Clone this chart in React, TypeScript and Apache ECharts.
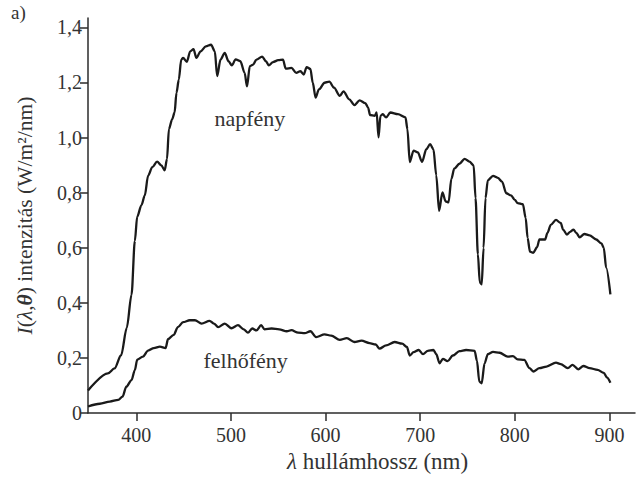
import React, { useEffect, useRef } from "react";
import * as echarts from "echarts";

const napLambda = [349, 370, 377, 384, 390, 395, 398.5, 401, 405.5, 409, 412.5, 417, 422, 426.5, 430, 432.5, 434.5, 438, 440.5, 442.5, 445, 447.5, 449.5, 453.5, 457, 460.5, 463.5, 468, 473.5, 479, 483, 485.5, 489, 493.5, 497.5, 501, 505, 510, 514.5, 517, 520, 523.5, 527, 533, 537, 540, 544.5, 550, 555, 558, 564, 569, 573.5, 577, 580, 584, 586.5, 589.5, 593, 599, 604, 609, 615, 619, 625, 630.5, 636, 642, 645, 647, 652, 654, 656, 658, 660.5, 664, 668.5, 676.5, 684.5, 686.5, 689, 693, 697.5, 702, 706.5, 710.5, 714, 717, 720, 723.5, 727, 730, 733, 736, 741.5, 747, 752, 756.5, 758.5, 761, 763, 765, 767, 769, 771.5, 777, 782, 786.5, 791, 796, 800, 803, 808.5, 811.5, 813.5, 816, 819.5, 823.5, 826, 832, 834.5, 838, 843.5, 848.5, 851, 855, 858.5, 862, 865, 868.5, 873.5, 879, 886, 891.5, 894, 896.5, 901];
const napValue = [0.082, 0.144, 0.162, 0.21, 0.31, 0.43, 0.625, 0.713, 0.755, 0.79, 0.862, 0.893, 0.913, 0.899, 0.881, 0.923, 1.031, 1.067, 1.091, 1.163, 1.211, 1.283, 1.289, 1.275, 1.313, 1.321, 1.289, 1.313, 1.331, 1.337, 1.313, 1.223, 1.283, 1.307, 1.277, 1.262, 1.284, 1.277, 1.235, 1.186, 1.259, 1.265, 1.283, 1.294, 1.277, 1.262, 1.274, 1.281, 1.283, 1.25, 1.253, 1.235, 1.241, 1.229, 1.256, 1.249, 1.199, 1.145, 1.175, 1.199, 1.203, 1.181, 1.151, 1.168, 1.139, 1.118, 1.135, 1.125, 1.109, 1.082, 1.079, 1.091, 1.001, 1.079, 1.085, 1.073, 1.091, 1.085, 1.073, 1.031, 0.911, 0.953, 0.946, 0.912, 0.958, 0.976, 0.958, 0.863, 0.734, 0.801, 0.768, 0.765, 0.851, 0.887, 0.905, 0.923, 0.913, 0.899, 0.78, 0.576, 0.474, 0.467, 0.6, 0.78, 0.845, 0.861, 0.854, 0.84, 0.798, 0.79, 0.774, 0.762, 0.758, 0.708, 0.636, 0.586, 0.582, 0.602, 0.63, 0.63, 0.654, 0.683, 0.701, 0.69, 0.666, 0.648, 0.658, 0.666, 0.654, 0.638, 0.65, 0.645, 0.63, 0.616, 0.6, 0.528, 0.431];

const felLambda = [349, 361.5, 372, 381, 385.5, 389.5, 395, 398.5, 401, 407, 412.5, 418.5, 425, 431, 433.5, 439.5, 444, 449.5, 456.5, 462, 469, 477.5, 482, 486.5, 493.5, 500.5, 507.5, 513.5, 518, 522.5, 527, 532, 535.5, 543, 551, 559, 564, 571, 578, 584, 590, 599, 606, 615, 622.5, 630.5, 638, 646.5, 653, 657, 664, 673, 681, 686, 689, 693, 698.5, 703, 708, 714, 717, 720.5, 724, 729, 734.5, 741.5, 748.5, 757.5, 760, 762.5, 765, 768, 771.5, 777, 784, 792.5, 798, 803, 810, 815.5, 819.5, 826, 833.5, 843.5, 848.5, 856, 861, 867, 872.5, 879, 887.5, 894, 897.5, 901];
const felValue = [0.024, 0.034, 0.042, 0.048, 0.06, 0.096, 0.12, 0.156, 0.194, 0.205, 0.227, 0.236, 0.241, 0.236, 0.268, 0.284, 0.312, 0.33, 0.337, 0.337, 0.325, 0.335, 0.325, 0.312, 0.325, 0.308, 0.319, 0.304, 0.292, 0.307, 0.3, 0.319, 0.304, 0.307, 0.304, 0.297, 0.301, 0.292, 0.29, 0.297, 0.276, 0.286, 0.281, 0.266, 0.272, 0.258, 0.263, 0.254, 0.249, 0.234, 0.246, 0.258, 0.252, 0.24, 0.209, 0.221, 0.229, 0.214, 0.226, 0.229, 0.214, 0.181, 0.197, 0.189, 0.209, 0.225, 0.229, 0.226, 0.19, 0.114, 0.108, 0.18, 0.214, 0.222, 0.219, 0.205, 0.207, 0.195, 0.193, 0.163, 0.151, 0.163, 0.169, 0.183, 0.178, 0.163, 0.175, 0.159, 0.171, 0.163, 0.157, 0.146, 0.129, 0.11];

const xTicks = [400, 500, 600, 700, 800, 900];
const yTicks = [0, 0.2, 0.4, 0.6, 0.8, 1.0, 1.2, 1.4];

const seriesNames = ["napfény", "felhőfény"];
const labelAnchors = [
  [520, 1.069],
  [515.6, 0.19],
];

const FONT = "'Liberation Serif', 'DejaVu Serif', serif";
const INK = "#2b2b2b";
const TXT = "#333333";

export default function App() {
  const ref = useRef<HTMLDivElement>(null);
  useEffect(() => {
    if (!ref.current) return;
    const chart = echarts.init(ref.current, null, { renderer: "svg" });
    const napData = napLambda.map((l, i) => [l, napValue[i]]);
    const felData = felLambda.map((l, i) => [l, felValue[i]]);
    const fmtY = (v: number) => (v === 0 ? "0" : v.toFixed(1).replace(".", ","));
    const mkLabel = (idx: number) => ({
      symbol: "circle",
      symbolSize: 1,
      itemStyle: { color: "rgba(0,0,0,0)" },
      label: {
        show: true,
        position: "inside",
        formatter: seriesNames[idx],
        fontFamily: FONT,
        fontSize: 22,
        color: TXT,
      },
      data: [{ coord: labelAnchors[idx] }],
      animation: false,
    });
    chart.setOption({
      animation: false,
      backgroundColor: "#ffffff",
      textStyle: { fontFamily: FONT },
      grid: { left: 88, right: 9, top: 18, bottom: 61, containLabel: false },
      graphic: [
        {
          type: "text",
          left: 11,
          top: 3,
          style: { text: "a)", fontFamily: FONT, fontSize: 19, fill: TXT },
        },
      ],
      xAxis: {
        type: "value",
        min: 349,
        max: 927,
        name: "{i|λ} hullámhossz (nm)",
        nameLocation: "middle",
        nameGap: 29,
        nameTextStyle: {
          fontFamily: FONT,
          fontSize: 23,
          color: TXT,
          padding: [0, 0, 0, 32],
          rich: {
            i: { fontFamily: FONT, fontSize: 23, fontStyle: "italic", color: TXT },
          },
        },
        axisLine: { show: true, lineStyle: { color: INK, width: 1.5 } },
        axisTick: {
          show: true,
          length: 8,
          inside: false,
          customValues: xTicks,
          lineStyle: { color: INK, width: 1.5 },
        },
        axisLabel: {
          customValues: xTicks,
          fontFamily: FONT,
          fontSize: 20,
          color: TXT,
          margin: 12,
          showMinLabel: true,
          showMaxLabel: true,
        },
        splitLine: { show: false },
      },
      yAxis: {
        type: "value",
        min: 0,
        max: 1.434,
        name: "{i|I}({i|λ},{bi|θ}) intenzitás (W/m²/nm)",
        nameLocation: "middle",
        nameGap: 52,
        nameRotate: 90,
        nameTextStyle: {
          fontFamily: FONT,
          fontSize: 21.5,
          color: TXT,
          rich: {
            i: { fontFamily: FONT, fontSize: 21.5, fontStyle: "italic", color: TXT },
            bi: { fontFamily: FONT, fontSize: 21.5, fontStyle: "italic", fontWeight: "bold", color: TXT },
          },
        },
        axisLine: { show: true, lineStyle: { color: INK, width: 1.5 } },
        axisTick: {
          show: true,
          length: 8,
          inside: false,
          customValues: yTicks,
          lineStyle: { color: INK, width: 1.5 },
        },
        axisLabel: {
          customValues: yTicks,
          formatter: fmtY,
          fontFamily: FONT,
          fontSize: 20,
          color: TXT,
          margin: 6,
        },
        splitLine: { show: false },
      },
      series: [
        {
          name: seriesNames[0],
          type: "line",
          data: napData,
          showSymbol: false,
          smooth: 0.3,
          smoothMonotone: "x",
          lineStyle: { color: "#1a1a1a", width: 2.3 },
          markPoint: mkLabel(0),
        },
        {
          name: seriesNames[1],
          type: "line",
          data: felData,
          showSymbol: false,
          smooth: 0.3,
          smoothMonotone: "x",
          lineStyle: { color: "#1a1a1a", width: 2.3 },
          markPoint: mkLabel(1),
        },
      ],
    });
    return () => chart.dispose();
  }, []);
  return (
    <div
      ref={ref}
      style={{ position: "fixed", left: 0, top: 0, width: 644, height: 478 }}
    />
  );
}
